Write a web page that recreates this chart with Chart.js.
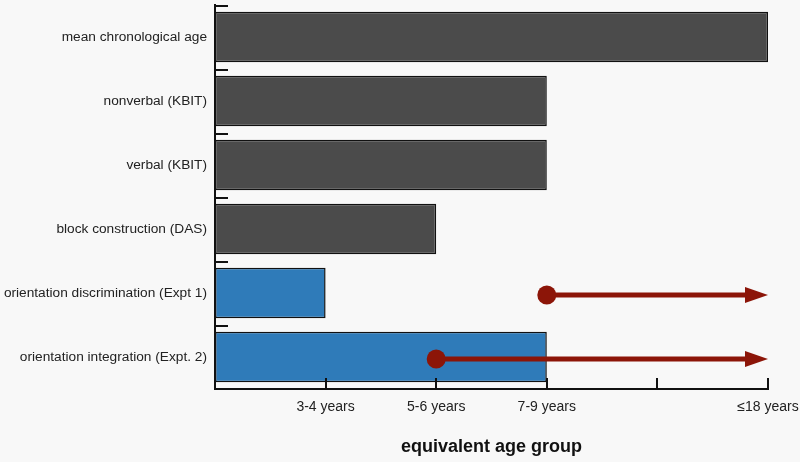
<!DOCTYPE html>
<html>
<head>
<meta charset="utf-8">
<script src="https://cdn.jsdelivr.net/npm/chart.js@4/dist/chart.umd.min.js"></script>
<style>
  html, body { margin: 0; padding: 0; background: #f8f8f8; }
  #wrap { width: 800px; height: 462px; }
</style>
</head>
<body>
<div id="wrap"><canvas id="chart"></canvas></div>
<script>
'use strict';

// ─── Data ─────────────────────────────────────────────
const categories = [
  'mean chronological age',
  'nonverbal (KBIT)',
  'verbal (KBIT)',
  'block construction (DAS)',
  'orientation discrimination (Expt 1)',
  'orientation integration (Expt. 2)',
];
const ageValues   = [5, 3, 3, 2, 1, 3];
const barColors   = ['#4b4b4b', '#4b4b4b', '#4b4b4b', '#4b4b4b', '#2f7bb9', '#2f7bb9'];
const tickLabels  = ['', '3-4 years', '5-6 years', '7-9 years', '', '≤18 years'];
const arrowStart  = [null, null, null, null, 3, 2];
const arrowEnd    = [null, null, null, null, 5, 5];

const ARROW_RED = '#8c1508';
const FONT = 'Liberation Sans, Arial, sans-serif';

// ─── Plugins ─────────────────────────────────────────
const axisTicks = {
  id: 'axisTicks',
  afterDatasetsDraw(chart) {
    const { ctx, scales: { x, y }, chartArea } = chart;
    ctx.save();
    ctx.strokeStyle = '#111';
    ctx.lineWidth = 2;
    // x ticks, pointing up
    for (let v = 1; v < tickLabels.length; v++) {
      const px = Math.round(x.getPixelForValue(v));
      ctx.beginPath();
      ctx.moveTo(px, chartArea.bottom);
      ctx.lineTo(px, chartArea.bottom - 11);
      ctx.stroke();
    }
    // y ticks at category boundaries, pointing right
    for (let i = 0; i < categories.length; i++) {
      const py = Math.round(y.getPixelForValue(i - 0.5)) + 1;
      ctx.beginPath();
      ctx.moveTo(chartArea.left, py);
      ctx.lineTo(chartArea.left + 13, py);
      ctx.stroke();
    }
    ctx.restore();
  },
};

const arrows = {
  id: 'arrows',
  afterDatasetsDraw(chart) {
    const { ctx, scales: { x, y } } = chart;
    ctx.save();
    ctx.strokeStyle = ARROW_RED;
    ctx.fillStyle = ARROW_RED;
    arrowStart.forEach((s, i) => {
      if (s == null) return;
      const x0 = x.getPixelForValue(s);
      const x1 = x.getPixelForValue(arrowEnd[i]);
      const py = y.getPixelForValue(i) + 2;
      const head = 23;
      ctx.lineWidth = 5;
      ctx.beginPath();
      ctx.moveTo(x0, py);
      ctx.lineTo(x1 - head + 2, py);
      ctx.stroke();
      ctx.beginPath();
      ctx.moveTo(x1, py);
      ctx.lineTo(x1 - head, py - 8);
      ctx.lineTo(x1 - head, py + 8);
      ctx.closePath();
      ctx.fill();
      ctx.beginPath();
      ctx.arc(x0, py, 9.5, 0, Math.PI * 2);
      ctx.fill();
    });
    ctx.restore();
  },
};

// ─── Chart ───────────────────────────────────────────
new Chart(document.getElementById('chart').getContext('2d'), {
  type: 'bar',
  data: {
    labels: categories,
    datasets: [{
      data: ageValues,
      backgroundColor: barColors,
      borderColor: '#111',
      borderWidth: 1.5,
      borderSkipped: false,
      barPercentage: 0.79,
      categoryPercentage: 1,
    }],
  },
  options: {
    indexAxis: 'y',
    responsive: true,
    maintainAspectRatio: false,
    animation: false,
    layout: { padding: { top: 5, right: 32, left: 0, bottom: 0 } },
    plugins: { legend: { display: false }, tooltip: { enabled: false } },
    scales: {
      x: {
        min: 0,
        max: 5,
        grid: { display: false },
        border: { display: true, color: '#111', width: 2 },
        ticks: {
          stepSize: 1,
          autoSkip: false,
          maxRotation: 0,
          padding: 2,
          color: '#222',
          font: { family: FONT, size: 14 },
          callback: v => tickLabels[v],
        },
        title: {
          display: true,
          text: 'equivalent age group',
          color: '#111',
          padding: { top: 20 },
          font: { family: FONT, size: 18, weight: 'bold' },
        },
        afterFit: s => {
          s.height = 73;
          s.paddingLeft = 0;
          s.paddingRight = 0;
        },
      },
      y: {
        grid: { display: false },
        border: { display: true, color: '#111', width: 2 },
        ticks: {
          padding: 0,
          color: '#222',
          font: { family: FONT, size: 13.7 },
        },
        afterFit: s => {
          s.width = 215;
          s.paddingTop = 0;
          s.paddingBottom = 0;
        },
      },
    },
  },
  plugins: [axisTicks, arrows],
});
</script>
</body>
</html>
